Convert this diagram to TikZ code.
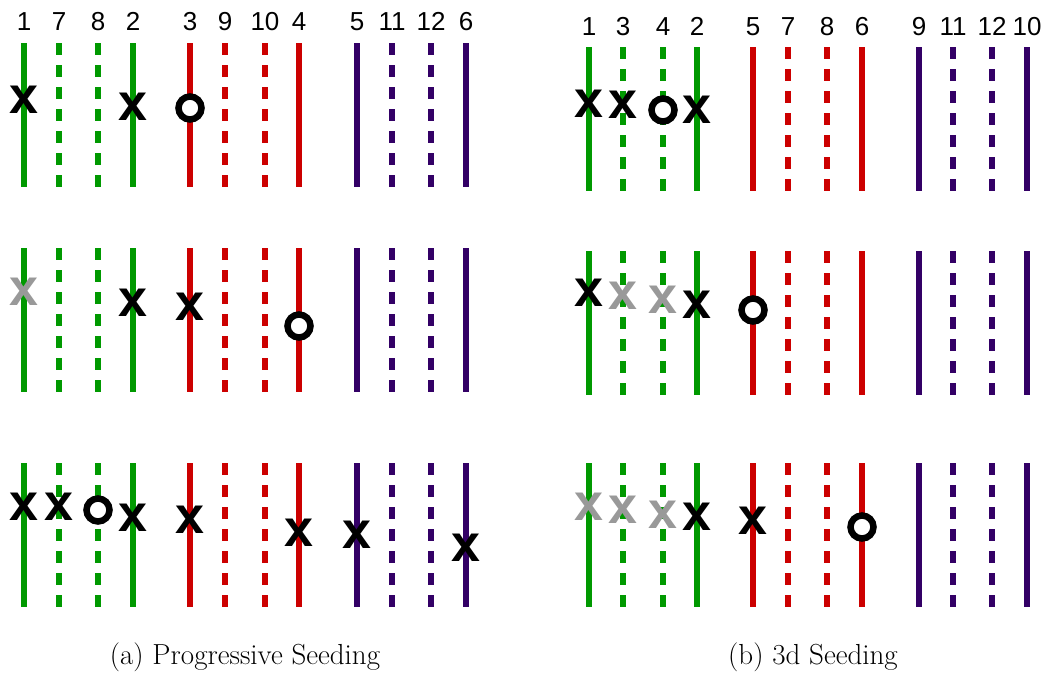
\documentclass[tikz,border=0pt]{standalone}
\usepackage{fontspec}
\newfontfamily\lblfont{Liberation Sans}
\definecolor{cgreen}{RGB}{0,153,0}
\definecolor{cred}{RGB}{204,0,0}
\definecolor{cpurple}{RGB}{51,0,102}
\definecolor{cgray}{RGB}{153,153,153}
\tikzset{
  solidline/.style={line width=6pt},
  dashline/.style={line width=6.5pt, dash pattern=on 12pt off 10pt},
  colnum/.style={font=\lblfont\fontsize{26}{30}\selectfont, anchor=base, inner sep=0pt},
  xmark/.style={font=\lblfont\bfseries\fontsize{52}{54}\selectfont, inner sep=0pt, text=black},
  gxmark/.style={xmark, text=cgray},
  omark/.style={circle, draw=black, line width=6.5pt, minimum size=23pt, inner sep=0pt, fill=white},
  caption/.style={font=\fontsize{29}{34}\selectfont, anchor=base, inner sep=0pt}
}
\begin{document}
\begin{tikzpicture}[x=1pt,y=-1pt]
\useasboundingbox (0,0) rectangle (1062,673);
% ---------- left panel ----------
\foreach \lab/\xx/\col/\sty in {1/24/cgreen/solidline, 7/59/cgreen/dashline, 8/98/cgreen/dashline, 2/133/cgreen/solidline,
  3/190/cred/solidline, 9/225/cred/dashline, 10/265/cred/dashline, 4/299/cred/solidline,
  5/357/cpurple/solidline, 11/392/cpurple/dashline, 12/431/cpurple/dashline, 6/466/cpurple/solidline}{
  \node[colnum] (L\lab) at (\xx,30) {\lab};
  \foreach \top in {43,248,463}{
    \draw[\sty, draw=\col] (\xx,\top) -- (\xx,\top+144);
  }
}
% ---------- right panel ----------
\foreach \lab/\xx/\col/\sty in {1/589/cgreen/solidline, 3/623/cgreen/dashline, 4/663/cgreen/dashline, 2/697/cgreen/solidline,
  5/753/cred/solidline, 7/788/cred/dashline, 8/827/cred/dashline, 6/862/cred/solidline,
  9/919/cpurple/solidline, 11/953/cpurple/dashline, 12/992/cpurple/dashline, 10/1027/cpurple/solidline}{
  \node[colnum] (R\lab) at (\xx,35) {\lab};
  \foreach \top in {47,251,463}{
    \draw[\sty, draw=\col] (\xx,\top) -- (\xx,\top+144);
  }
}
% ---------- left markers ----------
\node[xmark] (a1) at (24,100) {x};
\node[xmark] (a2) at (133,107) {x};
\node[omark] (a3) at (190,108) {};
\node[gxmark] (b1) at (24,292) {x};
\node[xmark] (b2) at (133,303) {x};
\node[xmark] (b3) at (190,307) {x};
\node[omark] (b4) at (299,326) {};
\node[xmark] (c1) at (24,507) {x};
\node[xmark] (c2) at (59,507) {x};
\node[omark] (c3) at (98,510) {};
\node[xmark] (c4) at (133,518) {x};
\node[xmark] (c5) at (190,520) {x};
\node[xmark] (c6) at (299,533) {x};
\node[xmark] (c7) at (357,535) {x};
\node[xmark] (c8) at (466,548) {x};
% ---------- right markers ----------
\node[xmark] (d1) at (589,104) {x};
\node[xmark] (d2) at (623,105) {x};
\node[omark] (d3) at (663,110) {};
\node[xmark] (d4) at (697,110) {x};
\node[xmark] (e1) at (589,293) {x};
\node[gxmark] (e2) at (623,296) {x};
\node[gxmark] (e3) at (663,300) {x};
\node[xmark] (e4) at (697,305) {x};
\node[omark] (e5) at (753,310) {};
\node[gxmark] (f1) at (589,507) {x};
\node[gxmark] (f2) at (623,510) {x};
\node[gxmark] (f3) at (663,515) {x};
\node[xmark] (f4) at (697,517) {x};
\node[xmark] (f5) at (753,521) {x};
\node[omark] (f6) at (862,527) {};
% ---------- captions ----------
\node[caption] (capa) at (245,664) {(a) Progressive Seeding};
\node[caption] (capb) at (813,664) {(b) 3d Seeding};
\end{tikzpicture}
\end{document}
